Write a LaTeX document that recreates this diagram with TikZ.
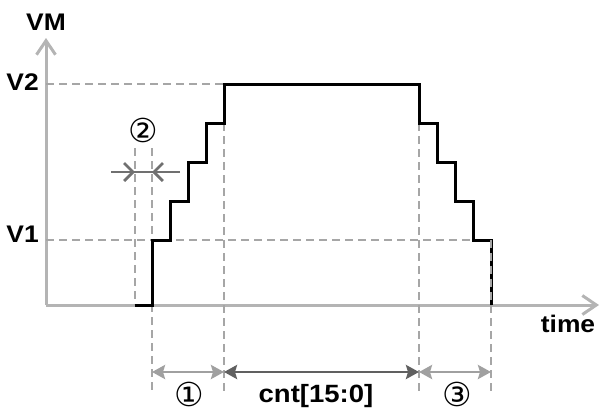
\documentclass[tikz,border=0pt]{standalone}
\usepackage{fontspec}
\setmainfont{Liberation Sans}
\newfontfamily\djv{DejaVu Sans}
\usetikzlibrary{arrows.meta}
\definecolor{axisgray}{HTML}{B4B4B4}
\definecolor{dashgray}{HTML}{A6A6A6}
\definecolor{pinchgray}{HTML}{707070}
\definecolor{lightarrow}{HTML}{A0A0A0}
\definecolor{cntarrow}{HTML}{606060}
\begin{document}
\begin{tikzpicture}[x=1pt,y=-1pt,
  axis/.style={draw=axisgray, line width=3pt, -{Straight Barb[length=14pt,width=19pt]}},
  guide/.style={draw=dashgray, line width=2.6pt, dash pattern=on 8pt off 5pt},
  wave/.style={draw=black, line width=3pt, line join=miter},
  lbl/.style={font=\fontsize{24}{28}\selectfont\bfseries, inner sep=0pt, xscale=1.1},
  circ/.style={font=\djv\fontsize{33}{36}\selectfont, inner sep=0pt},
  dimarrow/.style={line width=2.8pt, {Stealth[length=13pt,width=14pt,inset=2pt]}-{Stealth[length=13pt,width=14pt,inset=2pt]}},
  pinch/.style={draw=pinchgray, line width=2.8pt, -{Straight Barb[length=9pt,width=18pt]}},
]
\useasboundingbox (0,0) rectangle (601,416);

% coordinates
\coordinate (O) at (46,305);
\coordinate (ytip) at (46,38);
\coordinate (xtip) at (599,305);
\coordinate (v2a) at (46,84);
\coordinate (v2b) at (224,84);
\coordinate (v1a) at (46,240);
\coordinate (v1b) at (473,240);
\coordinate (g0t) at (135,148); \coordinate (g0b) at (135,305);
\coordinate (g1t) at (152,148); \coordinate (g1b) at (152,392);
\coordinate (g2t) at (224,123); \coordinate (g2b) at (224,392);
\coordinate (g3t) at (419,123); \coordinate (g3b) at (419,392);
\coordinate (g4t) at (491,240); \coordinate (g4b) at (491,392);
\coordinate (pl) at (111,172); \coordinate (pL) at (135,172);
\coordinate (pr) at (180,172); \coordinate (pR) at (152,172);
\coordinate (d1) at (152,372); \coordinate (d2) at (224,372);
\coordinate (d3) at (419,372); \coordinate (d4) at (491,372);

% axes
\draw[axis] (O) -- (ytip);
\draw[axis] (O) -- (xtip);

% guides
\draw[guide] (v2a) -- (v2b);
\draw[guide] (v1a) -- (v1b);
\draw[guide] (g0t) -- (g0b);
\draw[guide] (g1t) -- (g1b);
\draw[guide] (g2t) -- (g2b);
\draw[guide] (g3t) -- (g3b);

% waveform
\draw[wave] (135,305) -- (152,305) -- (152,240) -- (170,240) -- (170,201)
  -- (188,201) -- (188,162) -- (206,162) -- (206,123) -- (224,123) -- (224,84)
  -- (419,84) -- (419,123) -- (437,123) -- (437,162) -- (455,162) -- (455,201)
  -- (473,201) -- (473,240) -- (491,240) -- (491,305);
\draw[guide] (g4t) -- (g4b);

% pinch arrows (2)
\draw[draw=pinchgray, line width=2.8pt] (pl) -- (pr);
\draw[pinch] (pl) -- (pL);
\draw[pinch] (pr) -- (pR);

% dimension arrows
\draw[dimarrow, lightarrow] (d1) -- (d2);
\draw[dimarrow, cntarrow] (d2) -- (d3);
\draw[dimarrow, lightarrow] (d3) -- (d4);

% labels
\node[lbl] (vm) at (46,22) {VM};
\node[lbl, anchor=east] (v2) at (39,82) {V2};
\node[lbl, anchor=east] (v1) at (39,234) {V1};
\node[lbl] (time) at (568,324) {time};
\node[lbl, font=\fontsize{25}{29}\selectfont\bfseries] (cnt) at (316,396) {cnt[15:0]};
\node[circ] (c1) at (189,394) {①};
\node[circ] (c2) at (143,130) {②};
\node[circ] (c3) at (457,394) {③};
\end{tikzpicture}
\end{document}
